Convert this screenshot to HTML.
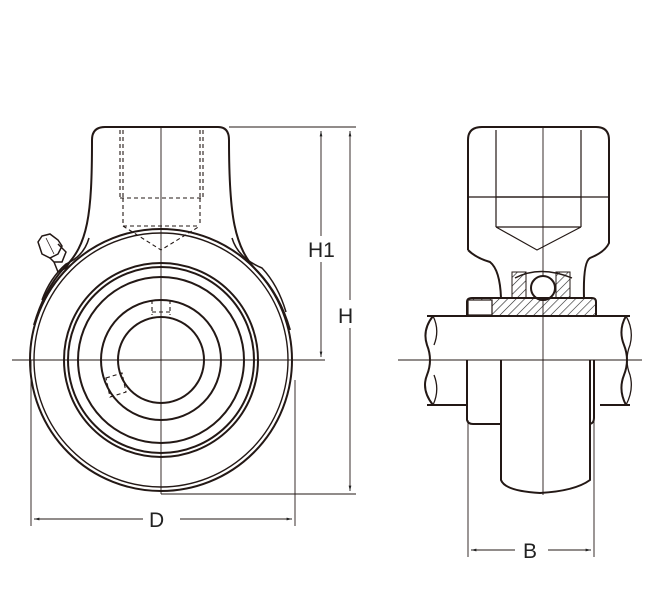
<!DOCTYPE html>
<html><head><meta charset="utf-8"><style>
html,body{margin:0;padding:0;background:#fff;}
svg{display:block;}
text{font-family:"Liberation Sans",sans-serif;font-size:21px;fill:#222;}
</style></head><body>
<svg width="654" height="600" viewBox="0 0 654 600" xmlns="http://www.w3.org/2000/svg">
<defs>
<pattern id="h" patternUnits="userSpaceOnUse" width="6" height="6" patternTransform="rotate(45)">
<line x1="0" y1="0" x2="0" y2="6" stroke="#222" stroke-width="1.2"/></pattern>
<marker id="a" viewBox="0 0 10 10" refX="10" refY="5" markerWidth="12" markerHeight="6" orient="auto-start-reverse"><path d="M0,2.5 L10,5 L0,7.5 z" fill="#222"/></marker>
</defs>
<g fill="none" stroke="#231815" stroke-width="2">
<!-- left view -->
<path d="M92,140 Q92,127 105,127 L218,127 Q229,127 229,140"/>
<path d="M229,140 C229,215 234,248 258,272 Q280,295 290,330"/>
<path d="M92,140 C92,215 88,245 64,268 Q44,290 34,325"/>
<path d="M232,238 Q238,258 262,268 Q278,285 286,312" stroke-width="1.5"/>
<path d="M89,238 Q84,256 66,264 Q50,278 42,300" stroke-width="1.5"/>
<circle cx="161" cy="360" r="131"/>
<circle cx="161" cy="360" r="127" stroke-width="1.4"/>
<circle cx="161" cy="360" r="97"/>
<circle cx="161" cy="360" r="93"/>
<circle cx="161" cy="360" r="83"/>
<circle cx="161" cy="360" r="60"/>
<circle cx="161" cy="360" r="43"/>
<g stroke-width="1.5">
<path d="M38,242 L42,236 L50,234 L58,240 L62,246 L58,254 L50,258 L42,254 Z"/>
<path d="M58,244 L66,252 L62,262 L54,262 L50,258"/>
<path d="M54,262 L58,272 L66,268 L70,262"/>
<line x1="46" y1="238" x2="54" y2="254" stroke-width="0.8"/>
</g>
<g stroke-dasharray="4,3" stroke-width="1.1">
<line x1="120" y1="130" x2="120" y2="198"/><line x1="123" y1="130" x2="123" y2="198"/>
<line x1="200" y1="130" x2="200" y2="198"/><line x1="203" y1="130" x2="203" y2="198"/>
<line x1="120" y1="198" x2="203" y2="198"/>
<line x1="123" y1="198" x2="123" y2="226"/><line x1="200" y1="198" x2="200" y2="226"/>
<line x1="123" y1="226" x2="200" y2="226"/>
<path d="M123,226 L161,250 L200,226"/>
<path d="M152,300 L152,315 M170,300 L170,315 M152,312 L170,312"/>
<path d="M106,378 L122,373 L126,392 L110,397 Z"/>
</g>
</g>
<g stroke="#231815" stroke-width="0.9" fill="none">
<line x1="12" y1="360" x2="325" y2="360"/>
<line x1="161" y1="127" x2="161" y2="494"/>
<line x1="229" y1="127" x2="356" y2="127"/>
<line x1="161" y1="494" x2="356" y2="494"/>
<line x1="31" y1="360" x2="31" y2="526"/>
<line x1="295" y1="380" x2="295" y2="526"/>
<line x1="321" y1="131" x2="321" y2="236" marker-start="url(#a)"/>
<line x1="321" y1="262" x2="321" y2="357" marker-end="url(#a)"/>
<line x1="350" y1="131" x2="350" y2="300" marker-start="url(#a)"/>
<line x1="350" y1="328" x2="350" y2="491" marker-end="url(#a)"/>
<line x1="34" y1="519" x2="143" y2="519" marker-start="url(#a)"/>
<line x1="180" y1="519" x2="292" y2="519" marker-end="url(#a)"/>
<!-- right -->
<line x1="398" y1="360" x2="642" y2="360"/>
<line x1="543" y1="127" x2="543" y2="495"/>
<line x1="468" y1="420" x2="468" y2="557"/>
<line x1="594" y1="420" x2="594" y2="557"/>
<line x1="471" y1="550" x2="515" y2="550" marker-start="url(#a)"/>
<line x1="548" y1="550" x2="591" y2="550" marker-end="url(#a)"/>
</g>
<g fill="none" stroke="#231815" stroke-width="2">
<path d="M468,250 L468,140 Q468,127 482,127 L596,127 Q609,127 609,140 L609,243 Q605,252 590,258 Q583,262 584,298"/>
<path d="M468,250 Q476,258 490,262 Q500,270 501,298"/>
<line x1="468" y1="197" x2="609" y2="197" stroke-width="1.2"/>
<path d="M496,130 L496,227 M581,130 L581,227 M496,197 L581,197 M496,227 L581,227 M496,227 L537,250 L581,227" stroke-width="1.2"/>
<path d="M515,278 Q540,265 572,278" stroke-width="1.4"/>
<rect x="512" y="272" width="14" height="26" fill="url(#h)" stroke-width="1"/>
<rect x="556" y="272" width="14" height="26" fill="url(#h)" stroke-width="1"/>
<circle cx="543" cy="288" r="12" fill="#fff"/>
<path d="M467,316 L467,302 Q467,298 472,298 L592,298 Q596,298 596,302 L596,316 Z" fill="url(#h)"/>
<rect x="468" y="300" width="24" height="15" fill="#fff" stroke-width="1.2"/>
<path d="M427,316 L630,316 M427,405 L467,405 M600,405 L630,405"/>
<path d="M433,316 Q422,330 427,345 Q433,360 427,375 Q421,390 433,405"/>
<path d="M433,316 Q440,330 434,345 M434,375 Q440,390 433,405" stroke-width="1.3"/>
<path d="M626,316 Q618,330 624,345 Q630,360 624,375 Q618,390 626,405"/>
<path d="M626,316 Q634,330 630,345 Q624,360 630,375 Q634,390 626,405" stroke-width="1.3"/>
<path d="M467,360 L467,420 Q468,424 473,424 L501,424"/>
<path d="M501,360 L501,480 Q505,491 540,493 Q575,491 590,480 L590,360"/>
<path d="M594,360 L594,418 Q594,423 590,424"/>
</g>
<text x="308" y="257">H1</text>
<text x="338" y="323">H</text>
<text x="149" y="527">D</text>
<text x="523" y="558">B</text>
</svg>
</body></html>
